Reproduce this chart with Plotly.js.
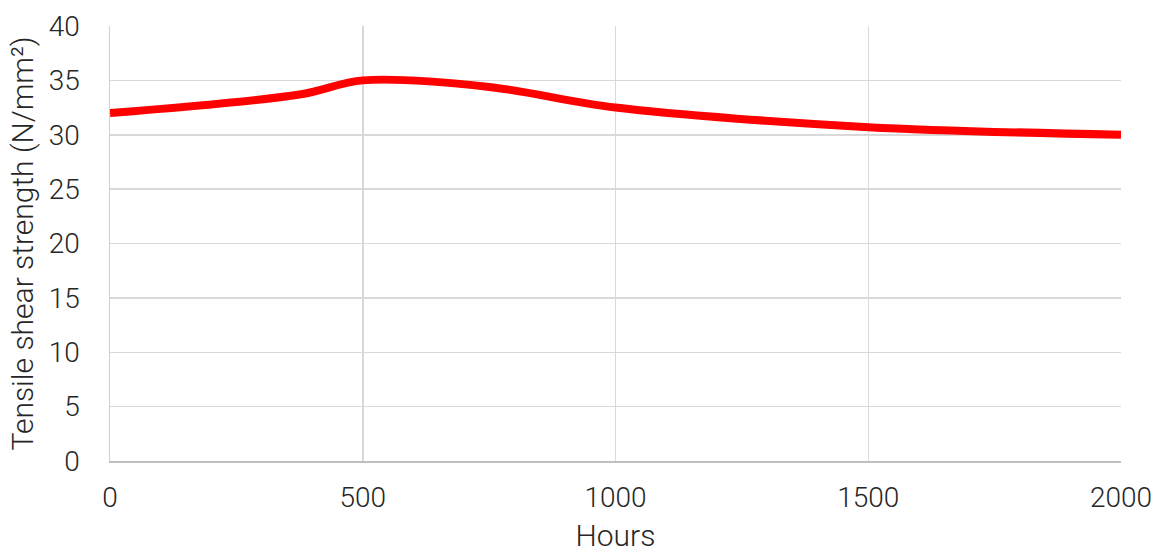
<!DOCTYPE html>
<html>
<head>
<meta charset="utf-8">
<script src="https://cdn.plot.ly/plotly-3.0.1.min.js"></script>
<style>html,body{margin:0;padding:0;background:#fff;}#chart{width:1161px;height:553px;}</style>
</head>
<body>
<div id="chart"></div>
<script>
const hours = [0, 375, 500, 750, 1000, 1500, 2000];
const strength = [32.0, 33.7, 35.0, 34.4, 32.5, 30.7, 30.0];
const xTicks = [0, 500, 1000, 1500, 2000];
const yTicks = [0, 5, 10, 15, 20, 25, 30, 35, 40];

const fontFam = '"Roboto Light", Roboto, "Open Sans", sans-serif';
const txtColor = '#262626';
const f = {family: fontFam, size: 28, color: txtColor, weight: 300};
const ft = {family: fontFam, size: 30, color: txtColor, weight: 300};
const trace = {
  x: hours, y: strength, mode: 'lines', type: 'scatter',
  line: {color: '#ff0000', width: 8, shape: 'spline', smoothing: 0.9},
  hoverinfo: 'skip'
};
const layout = {
  width: 1161, height: 553,
  margin: {l: 110, r: 40, t: 26, b: 92},
  paper_bgcolor: '#ffffff', plot_bgcolor: '#ffffff',
  showlegend: false,
  font: f,
  xaxis: {
    range: [0, 2000], tickvals: xTicks, ticktext: xTicks.map(String),
    showgrid: true, gridcolor: '#d9d9d9', gridwidth: 1.5,
    showline: true, linecolor: '#bfbfbf', linewidth: 2,
    zeroline: false, ticks: '', ticklabelstandoff: 10,
    tickfont: f,
    title: {text: 'Hours', standoff: 21, font: ft}
  },
  yaxis: {
    range: [0, 40], tickvals: yTicks, ticktext: yTicks.map(String),
    showgrid: true, gridcolor: '#d9d9d9', gridwidth: 1.5,
    showline: true, linecolor: '#d0d0d0', linewidth: 1.5,
    zeroline: false, ticks: '', ticklabelstandoff: 23,
    tickfont: f,
    title: {text: 'Tensile shear strength (N/mm²)', standoff: 6, font: ft}
  }
};
Plotly.newPlot('chart', [trace], layout, {displayModeBar: false, staticPlot: true});
</script>
</body>
</html>
